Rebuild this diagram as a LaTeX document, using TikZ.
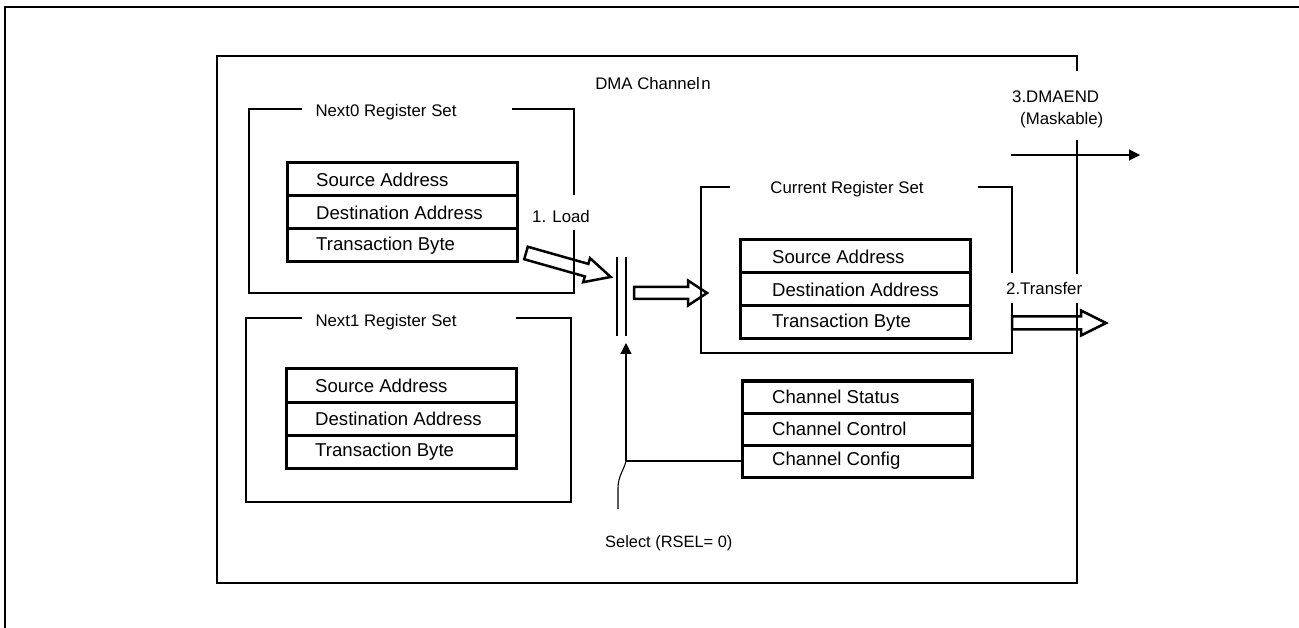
\documentclass[tikz,border=0pt]{standalone}
\usepackage{fontspec}
\setmainfont{Liberation Sans}
\usetikzlibrary{arrows.meta}
\begin{document}
\begin{tikzpicture}[x=1pt,y=-1pt,
  frame/.style={line width=2.7pt},
  cell/.style={draw,line width=3pt,minimum width=230pt,minimum height=33pt,inner sep=0pt,outer sep=0pt,anchor=north west},
  celltxt/.style={font=\fontsize{18.6pt}{20pt}\selectfont,anchor=west,xshift=29pt,inner sep=0pt},
  lbl/.style={font=\fontsize{16.8pt}{19pt}\selectfont,inner sep=0pt},
  hollow/.style={draw,line width=2.5pt,fill=none},
  thinline/.style={line width=1.1pt},
  tip/.style={-{Triangle[length=11pt,width=11pt]}}]
\useasboundingbox (0,0) rectangle (1299,628);

% outer frame
\draw[frame] (5,628) -- (5,7) -- (1299,7);

% DMA channel box
\draw[frame] (1077,71) -- (1077,56) -- (217,56) -- (217,583) -- (1077,583) -- (1077,303);
\draw[frame] (1077,274) -- (1077,140);
\node[lbl,anchor=base] (dma) at (653,90) {DMA Channel\hspace{1.5pt}n};

% Next0 register set
\draw[frame] (302,109) -- (249,109) -- (249,293) -- (574,293) -- (574,230);
\draw[frame] (574,195) -- (574,109) -- (512,109);
\node[lbl,anchor=base] (n0t) at (386,117) {Next0 Register Set};
\node[cell] (n0a) at (287,163) {};
\node[cell] (n0b) at (287,196) {};
\node[cell] (n0c) at (287,229) {};
\node[celltxt] (n0at) at (n0a.west) {Source Address};
\node[celltxt] (n0bt) at (n0b.west) {Destination Address};
\node[celltxt] (n0ct) at (n0c.west) {Transaction Byte};

% Next1 register set
\draw[frame] (302,318) -- (246,318) -- (246,502) -- (571,502) -- (571,318) -- (516,318);
\node[lbl,anchor=base] (n1t) at (386,327) {Next1 Register Set};
\node[cell] (n1a) at (286,369) {};
\node[cell] (n1b) at (286,402) {};
\node[cell] (n1c) at (286,435) {};
\node[celltxt] (n1at) at (n1a.west) {Source Address};
\node[celltxt] (n1bt) at (n1b.west) {Destination Address};
\node[celltxt] (n1ct) at (n1c.west) {Transaction Byte};

% Current register set
\draw[frame] (730,187) -- (701,187) -- (701,353) -- (1012,353) -- (1012,303);
\draw[frame] (1012,273) -- (1012,187) -- (978,187);
\node[lbl,anchor=base] (curt) at (847,194) {Current Register Set};
\node[cell] (cua) at (740,240) {};
\node[cell] (cub) at (740,273) {};
\node[cell] (cuc) at (740,306) {};
\node[celltxt,xshift=3pt] (cuat) at (cua.west) {Source Address};
\node[celltxt,xshift=3pt] (cubt) at (cub.west) {Destination Address};
\node[celltxt,xshift=3pt] (cuct) at (cuc.west) {Transaction Byte};

% Channel registers
\node[cell,minimum height=32pt] (cha) at (742,381) {};
\node[cell,minimum height=32pt] (chb) at (742,413) {};
\node[cell,minimum height=32pt] (chc) at (742,445) {};
\node[celltxt,xshift=1pt] (chat) at (cha.west) {Channel Status};
\node[celltxt,xshift=1pt] (chbt) at (chb.west) {Channel Control};
\node[celltxt,xshift=1pt] (chct) at (chc.west) {Channel Config};

% selector bar
\draw[frame] (617,257) -- (617,336);
\draw[frame] (626,257) -- (626,336);
\coordinate (barbot) at (626,343);

% 1. Load hollow arrow
\node[lbl,anchor=base] (load) at (561,223) {1. Load};
\begin{scope}[shift={(526,253)},rotate=-15.8]
\draw[hollow] (0,6.5) -- (63,6.5) -- (63,12.5) -- (88,0) -- (63,-12.5) -- (63,-6.5) -- (0,-6.5) -- cycle;
\end{scope}

% bar to current set hollow arrow
\begin{scope}[shift={(634,293)}]
\draw[hollow] (0,6) -- (54,6) -- (54,12.5) -- (73,0) -- (54,-12.5) -- (54,-6) -- (0,-6) -- cycle;
\end{scope}

% 2.Transfer hollow arrow
\node[lbl,anchor=base west] (xfer) at (1006,295) {2.Transfer};
\begin{scope}[shift={(1012,323)}]
\draw[hollow] (0,6.5) -- (69,6.5) -- (69,12.5) -- (94,0) -- (69,-12.5) -- (69,-6.5) -- (0,-6.5) -- cycle;
\end{scope}

% 3.DMAEND
\node[lbl,anchor=base west] (dmaend) at (1012,103) {3.DMAEND};
\node[lbl,anchor=base west] (mask) at (1020,125) {(Maskable)};
\coordinate (ends) at (1011,155);
\coordinate (ende) at (1140,155);
\draw[thinline,tip] (ends) -- (ende);

% Select
\coordinate (jn) at (chc.west -| barbot);
\coordinate (sel) at (618,509);
\draw[thinline] (chc.west) -- (jn);
\draw[thinline,tip] (jn) -- (barbot);
\draw[thinline] (sel) -- (618,488) .. controls (618,476) and (624,470) .. (jn);
\node[font=\fontsize{16.4pt}{19pt}\selectfont,inner sep=0pt,anchor=base west] (selt) at (605,547) {Select (RSEL= 0)};
\end{tikzpicture}
\end{document}
